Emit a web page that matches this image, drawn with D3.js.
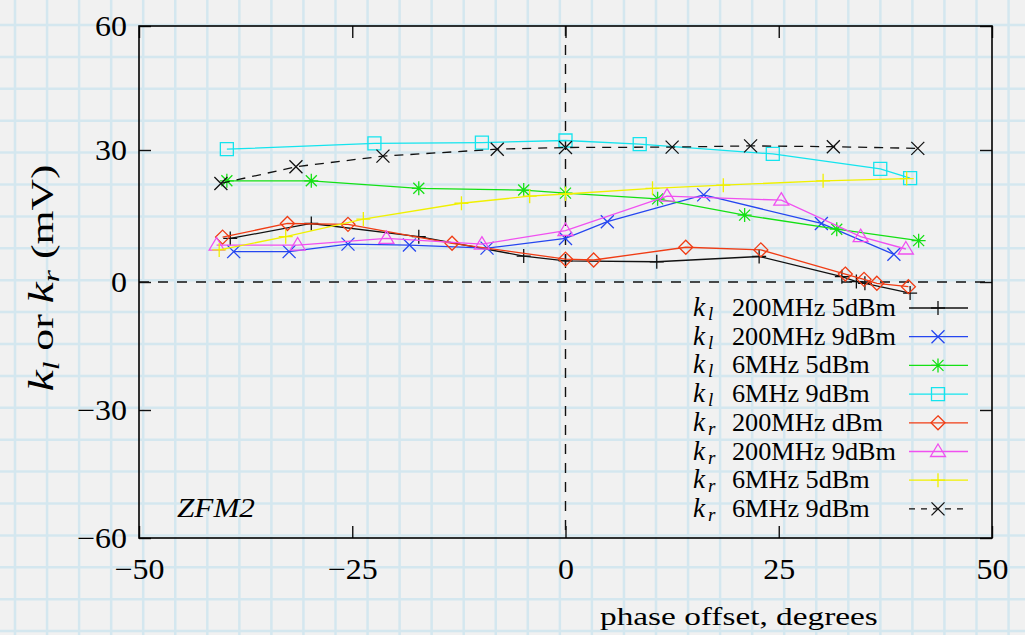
<!DOCTYPE html>
<html>
<head>
<meta charset="utf-8">
<script src="https://cdn.jsdelivr.net/npm/d3@7"></script>
<style>
  html, body { margin: 0; padding: 0; background: #f1f1f1; }
  svg { display: block; font-family: "Liberation Serif", "Times New Roman", "DejaVu Serif", serif; }
</style>
</head>
<body>
<div id="chart"></div>
<script>
// values (phase offset in degrees, k in mV)
var phaseKl200m5 = [-39.3, -29.8, -17.2, -4.9, 0, 10.7, 22.7, 32.4, 34.1, 35.1, 40.4];
var kl200m5      = [9.9, 13.3, 10.3, 5.9, 4.8, 4.6, 5.8, 1.2, 0.1, -0.3, -2.6];

var phaseKl200m9 = [-38.9, -32.4, -25.5, -18.3, -9.2, 0, 4.9, 16.2, 30.0, 38.5];
var kl200m9      = [6.9, 6.9, 8.6, 8.4, 7.7, 9.9, 13.7, 19.8, 13.3, 6.3];

var phaseKl6m5 = [-39.7, -29.8, -17.2, -4.9, 0, 10.8, 21.0, 31.8, 41.4];
var kl6m5      = [23.0, 23.0, 21.3, 20.9, 20.2, 18.9, 15.2, 12.0, 9.4];

var phaseKl6m9 = [-39.7, -22.4, -9.8, 0, 8.7, 24.3, 36.9, 40.4];
var kl6m9      = [30.2, 31.6, 31.8, 32.3, 31.4, 29.1, 25.7, 23.6];

var phaseKr200m5 = [-40.2, -32.6, -25.5, -13.3, 0, 3.3, 14.1, 22.9, 32.8, 35.0, 36.5, 40.2];
var kr200m5      = [10.2, 13.3, 13.1, 8.8, 5.2, 5.0, 7.9, 7.3, 1.8, 0.6, -0.3, -1.1];

var phaseKr200m9 = [-40.9, -31.4, -21.0, -9.8, 0, 11.9, 25.3, 34.6, 39.9];
var kr200m9      = [8.4, 8.4, 9.9, 8.6, 11.7, 19.5, 18.6, 10.3, 7.5];

var phaseKr6m5 = [-40.6, -32.8, -23.7, -12.2, -4.2, 0, 10.2, 18.5, 30.2, 40.0];
var kr6m5      = [7.3, 10.3, 14.3, 17.9, 19.5, 20.0, 21.3, 22.0, 23.0, 23.5];

var phaseKr6m9 = [-40.4, -31.6, -21.4, -8.0, 0, 12.5, 21.7, 31.4, 41.3];
var kr6m9      = [22.4, 26.2, 28.6, 30.2, 30.6, 30.7, 31.0, 30.8, 30.4];

var subscripts = ["l", "l", "l", "l", "r", "r", "r", "r"];
var labels = ["200MHz 5dBm", "200MHz 9dBm", "6MHz 5dBm", "6MHz 9dBm",
              "200MHz dBm", "200MHz 9dBm", "6MHz 5dBm", "6MHz 9dBm"];

var xTicks = [-50, -25, 0, 25, 50];
var yTicks = [-60, -30, 0, 30, 60];

// look of each series
var styles = [
  { color: "#111111", marker: "plus" },
  { color: "#2546f0", marker: "cross" },
  { color: "#14e014", marker: "star" },
  { color: "#14e4ee", marker: "square" },
  { color: "#f03c14", marker: "diamond" },
  { color: "#f050f0", marker: "triangle" },
  { color: "#f0f000", marker: "plus" },
  { color: "#111111", marker: "cross", dash: "9,7" }
];

var series = [
  [phaseKl200m5, kl200m5], [phaseKl200m9, kl200m9], [phaseKl6m5, kl6m5], [phaseKl6m9, kl6m9],
  [phaseKr200m5, kr200m5], [phaseKr200m9, kr200m9], [phaseKr6m5, kr6m5], [phaseKr6m9, kr6m9]
].map(function (s, i) {
  return {
    points: s[0].map(function (p, j) { return [p, s[1][j]]; }),
    sub: subscripts[i],
    label: labels[i],
    style: styles[i]
  };
});

var width = 1025, height = 635;

var svg = d3.select("#chart").append("svg")
  .attr("width", width)
  .attr("height", height);

// graph paper behind everything
var paper = svg.append("g");
paper.append("rect").attr("width", width).attr("height", height).attr("fill", "#f1f1f1");
paper.selectAll(".gv").data(d3.range(15, width, 32.05)).enter().append("line")
  .attr("x1", function (d) { return d; }).attr("x2", function (d) { return d; })
  .attr("y1", 0).attr("y2", height)
  .attr("stroke", "#d4e7ef").attr("stroke-width", 2.5);
paper.selectAll(".gh").data(d3.range(25, height, 31.9)).enter().append("line")
  .attr("y1", function (d) { return d; }).attr("y2", function (d) { return d; })
  .attr("x1", 0).attr("x2", width)
  .attr("stroke", "#d4e7ef").attr("stroke-width", 2.5);

var x = d3.scaleLinear().domain([-50, 50]).range([139, 992]);
var y = d3.scaleLinear().domain([-60, -30, 0, 30, 60]).range([538, 410, 282, 150, 26]);

// zero axes, dashed
svg.append("line")
  .attr("x1", x(-50)).attr("x2", x(50)).attr("y1", y(0)).attr("y2", y(0))
  .attr("stroke", "#111").attr("stroke-width", 1.4).attr("stroke-dasharray", "10,9");
svg.append("line")
  .attr("x1", x(0)).attr("x2", x(0)).attr("y1", y(60)).attr("y2", y(-60))
  .attr("stroke", "#111").attr("stroke-width", 1.4).attr("stroke-dasharray", "10,9");

// axes with inward ticks
var fmt = d3.format("");
var axB = svg.append("g").attr("transform", "translate(0," + y(-60) + ")")
  .call(d3.axisBottom(x).tickValues(xTicks).tickSize(-12).tickPadding(20).tickFormat(fmt));
var axT = svg.append("g").attr("transform", "translate(0," + y(60) + ")")
  .call(d3.axisTop(x).tickValues(xTicks).tickSize(-12).tickFormat(""));
var axL = svg.append("g").attr("transform", "translate(" + x(-50) + ",0)")
  .call(d3.axisLeft(y).tickValues(yTicks).tickSize(-12).tickPadding(12).tickFormat(fmt));
var axR = svg.append("g").attr("transform", "translate(" + x(50) + ",0)")
  .call(d3.axisRight(y).tickValues(yTicks).tickSize(-12).tickFormat(""));

[axB, axT, axL, axR].forEach(function (a) {
  a.attr("font-family", null);
  a.select(".domain").remove();
  a.selectAll(".tick line").attr("stroke", "#111").attr("stroke-width", 1.4);
  a.selectAll(".tick text")
    .attr("fill", "#000")
    .style("font-size", "29px");
});

// squeeze tick labels so "−25" is about 50px wide, as in the reference
var probe = axB.selectAll(".tick text").filter(function (d) { return d === -25; });
var tickFactor = 50 / probe.node().getComputedTextLength();
[axB, axL].forEach(function (a) {
  a.selectAll(".tick text").each(function () {
    var w = this.getComputedTextLength();
    d3.select(this).attr("textLength", w * tickFactor).attr("lengthAdjust", "spacingAndGlyphs");
  });
});

svg.append("rect")
  .attr("x", x(-50)).attr("y", y(60))
  .attr("width", x(50) - x(-50)).attr("height", y(-60) - y(60))
  .attr("fill", "none").attr("stroke", "#000").attr("stroke-width", 1.6);

// marker shapes
function markerPath(type) {
  switch (type) {
    case "plus": return "M-7,0H7M0,-7V7";
    case "cross": return "M-6.5,-6.5L6.5,6.5M-6.5,6.5L6.5,-6.5";
    case "star": return "M-7,0H7M0,-7V7M-5.5,-5.5L5.5,5.5M-5.5,5.5L5.5,-5.5";
    case "square": return "M-6.5,-6.5H6.5V6.5H-6.5Z";
    case "diamond": return "M0,-7L7,0L0,7L-7,0Z";
    case "triangle": return "M0,-7.5L7.5,5L-7.5,5Z";
  }
}

var line = d3.line()
  .x(function (d) { return x(d[0]); })
  .y(function (d) { return y(d[1]); });

var plot = svg.append("g");
series.forEach(function (s) {
  var g = plot.append("g");
  g.append("path")
    .attr("d", line(s.points))
    .attr("fill", "none")
    .attr("stroke", s.style.color)
    .attr("stroke-width", 1.3)
    .attr("stroke-dasharray", s.style.dash || null);
  g.selectAll("path.m").data(s.points).enter().append("path")
    .attr("class", "m")
    .attr("d", markerPath(s.style.marker))
    .attr("transform", function (d) { return "translate(" + x(d[0]) + "," + y(d[1]) + ")"; })
    .attr("fill", "none")
    .attr("stroke", s.style.color)
    .attr("stroke-width", 1.3);
});

// legend
var legendTop = 308, legendStep = 28.7;
var legend = svg.selectAll(".legend").data(series).enter().append("g")
  .attr("class", "legend")
  .attr("transform", function (d, i) { return "translate(0," + (legendTop + i * legendStep) + ")"; });

// k and its subscript as two small texts
legend.append("text")
  .attr("x", 693).attr("y", 8)
  .style("font-style", "italic")
  .style("font-size", "27px")
  .text("k");
legend.append("text")
  .attr("x", 708).attr("y", 12)
  .style("font-style", "italic")
  .style("font-size", "19px")
  .text(function (d) { return d.sub; });

var legendText = legend.append("text")
  .attr("x", 732).attr("y", 8)
  .style("font-size", "25px")
  .text(function (d) { return d.label; });

// "200MHz 5dBm" spans about 164px in the reference
var legendFactor = 164 / legendText.node().getComputedTextLength();
legendText.each(function () {
  var w = this.getComputedTextLength();
  d3.select(this).attr("textLength", w * legendFactor).attr("lengthAdjust", "spacingAndGlyphs");
});

legend.append("line")
  .attr("x1", 909).attr("x2", 968).attr("y1", 0).attr("y2", 0)
  .attr("stroke", function (d) { return d.style.color; })
  .attr("stroke-width", 1.3)
  .attr("stroke-dasharray", function (d) { return d.style.dash ? "6,6" : null; });
legend.append("path")
  .attr("d", function (d) { return markerPath(d.style.marker); })
  .attr("transform", "translate(938,0)")
  .attr("fill", "none")
  .attr("stroke", function (d) { return d.style.color; })
  .attr("stroke-width", 1.3);

// stretch a text group horizontally so it spans the wanted width
function fitWidth(g, target) {
  var w = g.node().getBBox().width;
  return target / w;
}

// x axis label
var xl = svg.append("g");
xl.append("text").attr("x", 0).attr("y", 0).style("font-size", "26px").text("phase offset, degrees");
xl.attr("transform", "translate(600,625) scale(" + fitWidth(xl, 278) + ",1)");

// y axis label
var yl = svg.append("g");
var ylt = yl.append("text").attr("text-anchor", "middle").style("font-size", "32px");
ylt.append("tspan").style("font-style", "italic").style("font-size", "35px").text("k");
ylt.append("tspan").attr("dy", 6).style("font-style", "italic").style("font-size", "23px").text("l");
ylt.append("tspan").attr("dy", -6).text(" or ");
ylt.append("tspan").style("font-style", "italic").style("font-size", "35px").text("k");
ylt.append("tspan").attr("dy", 6).style("font-style", "italic").style("font-size", "23px").text("r");
ylt.append("tspan").attr("dy", -6).text(" (mV)");
yl.attr("transform", "translate(53,278) rotate(-90) scale(" + fitWidth(yl, 227) + ",1)");

// panel tag
var tag = svg.append("g");
tag.append("text").style("font-style", "italic").style("font-size", "28px").text("ZFM2");
tag.attr("transform", "translate(177,517) scale(" + fitWidth(tag, 78) + ",1)");
</script>
</body>
</html>
